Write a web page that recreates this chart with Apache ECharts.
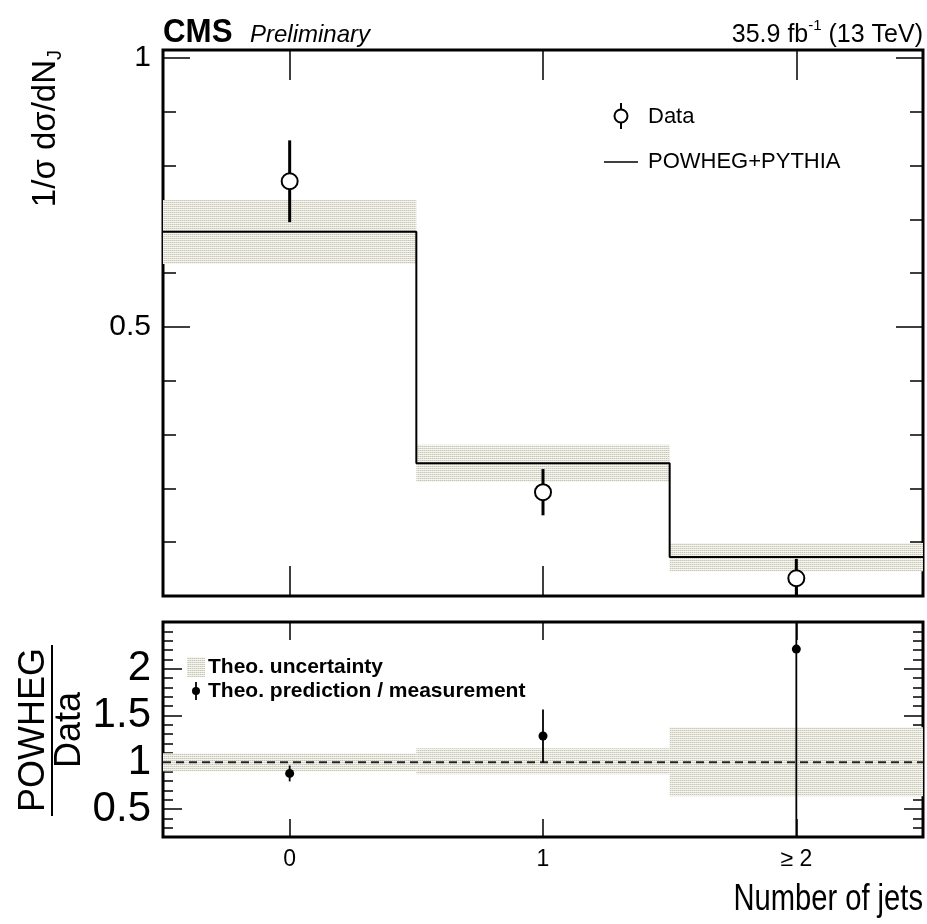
<!DOCTYPE html>
<html><head><meta charset="utf-8">
<script src="https://cdn.jsdelivr.net/npm/echarts@6/dist/echarts.min.js"></script>
<style>html,body{margin:0;padding:0;background:#fff}#c{width:927px;height:924px}</style>
</head><body><div id="c"></div>
<script>
// ---- data ----
const categories = ['0', '1', '\u2265 2'];
const binCenters = [0, 1, 2];
const binEdges = [-0.5, 0.5, 1.5, 2.5];
const dataValues = [0.771, 0.193, 0.033];
const dataErrors = [0.076, 0.043, 0.036];
const mcValues = [0.677, 0.247, 0.0725];
const mcBandLo = [0.617, 0.212, 0.046];
const mcBandHi = [0.736, 0.281, 0.0985];
const ratioValues = [0.88, 1.28, 2.21];
const ratioErrors = [0.085, 0.285, 2.3];
const ratioBandLo = [0.904, 0.87, 0.635];
const ratioBandHi = [1.096, 1.15, 1.375];
const upperMajorTicks = [0.5, 1];
const upperMinorTicks = [0.1, 0.2, 0.3, 0.4, 0.6, 0.7, 0.8, 0.9];
const lowerMajorTicks = [0.5, 1, 1.5, 2];
const lowerMinorTicks = [0.3, 0.4, 0.6, 0.7, 0.8, 0.9, 1.1, 1.2, 1.3, 1.4, 1.6, 1.7, 1.8, 1.9, 2.1, 2.2, 2.3, 2.4];
const upperRange = [0, 1.015];
const lowerRange = [0.2, 2.5];

const SANS = '"Liberation Sans", Arial, sans-serif';

function makePattern() {
  const c = document.createElement('canvas');
  c.width = 2; c.height = 2;
  const g = c.getContext('2d');
  g.fillStyle = '#f5f5f0'; g.fillRect(0, 0, 2, 2);
  g.fillStyle = '#c8c6b8'; g.fillRect(0, 0, 1, 1);
  g.fillStyle = '#e0ded3'; g.fillRect(1, 0, 1, 1);
  return c;
}
const pattern = { image: makePattern(), repeat: 'repeat' };

const chart = echarts.init(document.getElementById('c'), null, { renderer: 'canvas' });

const grids = [
  { left: 163, right: 4, top: 50, height: 546, show: true, borderColor: '#000', borderWidth: 3, backgroundColor: 'transparent' },
  { left: 163, right: 4, top: 622, height: 215, show: true, borderColor: '#000', borderWidth: 3, backgroundColor: 'transparent' }
];

function xAx(gi, pos, len, labels) {
  return {
    type: 'value', gridIndex: gi, min: binEdges[0], max: binEdges[binEdges.length - 1], position: pos,
    axisLine: { show: false, onZero: false }, splitLine: { show: false },
    axisTick: { show: true, inside: true, length: len, customValues: binCenters, lineStyle: { color: '#000', width: 1.5 } },
    axisLabel: labels ? {
      show: true, customValues: binCenters, margin: 11,
      formatter: v => categories[binCenters.indexOf(v)], fontFamily: SANS, fontSize: 23, color: '#000'
    } : { show: false }
  };
}
function yAx(gi, pos, range, ticks, len, labelSize) {
  return {
    type: 'value', gridIndex: gi, min: range[0], max: range[1], position: pos,
    axisLine: { show: false, onZero: false }, splitLine: { show: false },
    axisTick: { show: true, inside: true, length: len, customValues: ticks, lineStyle: { color: '#000', width: 1.5 } },
    axisLabel: labelSize ? {
      show: true, customValues: ticks, margin: 12, formatter: v => String(v),
      fontFamily: SANS, fontSize: labelSize, color: '#000'
    } : { show: false }
  };
}

const xAxes = [
  xAx(0, 'bottom', 30, false), xAx(0, 'top', 30, false),
  xAx(1, 'bottom', 18, true), xAx(1, 'top', 18, false)
];
const yAxes = [
  yAx(0, 'left', upperRange, upperMajorTicks, 27, 30),
  yAx(0, 'left', upperRange, upperMinorTicks, 13, 0),
  yAx(0, 'right', upperRange, upperMajorTicks, 27, 0),
  yAx(0, 'right', upperRange, upperMinorTicks, 13, 0),
  yAx(1, 'left', lowerRange, lowerMajorTicks, 19, 42),
  yAx(1, 'left', lowerRange, lowerMinorTicks, 10, 0),
  yAx(1, 'right', lowerRange, lowerMajorTicks, 19, 0),
  yAx(1, 'right', lowerRange, lowerMinorTicks, 10, 0)
];

function bandSeries(xi, yi, lo, hi) {
  return {
    type: 'custom', xAxisIndex: xi, yAxisIndex: yi, silent: true, z: 1,
    data: lo.map((l, i) => [binEdges[i], binEdges[i + 1], l, hi[i]]),
    encode: { x: [0, 1], y: [2, 3] },
    renderItem: (params, api) => {
      const p1 = api.coord([api.value(0), api.value(3)]);
      const p2 = api.coord([api.value(1), api.value(2)]);
      return { type: 'rect', shape: { x: p1[0], y: p1[1], width: p2[0] - p1[0], height: p2[1] - p1[1] }, style: { fill: pattern } };
    }
  };
}
function errSeries(xi, yi, vals, errs, range, r, lw, hollow) {
  return {
    type: 'custom', xAxisIndex: xi, yAxisIndex: yi, silent: true, z: 5,
    data: vals.map((v, i) => [binCenters[i], v, Math.max(v - errs[i], range[0]), Math.min(v + errs[i], range[1])]),
    encode: { x: 0, y: [1, 2, 3] },
    renderItem: (params, api) => {
      const c = api.coord([api.value(0), api.value(1)]);
      const lo = api.coord([api.value(0), api.value(2)]);
      const hi = api.coord([api.value(0), api.value(3)]);
      return {
        type: 'group', children: [
          { type: 'line', shape: { x1: c[0], y1: lo[1], x2: c[0], y2: hi[1] }, style: { stroke: '#000', lineWidth: lw } },
          { type: 'circle', shape: { cx: c[0], cy: c[1], r: r }, style: hollow ? { fill: '#fff', stroke: '#000', lineWidth: 2 } : { fill: '#000' } }
        ]
      };
    }
  };
}

const stepData = [];
mcValues.forEach((v, i) => { stepData.push([binEdges[i], v], [binEdges[i + 1], v]); });

const series = [
  bandSeries(0, 0, mcBandLo, mcBandHi),
  { type: 'line', xAxisIndex: 0, yAxisIndex: 0, data: stepData, symbol: 'none', silent: true, z: 3,
    lineStyle: { color: '#000', width: 2 } },
  errSeries(0, 0, dataValues, dataErrors, upperRange, 8, 3, true),
  bandSeries(2, 4, ratioBandLo, ratioBandHi),
  { type: 'line', xAxisIndex: 2, yAxisIndex: 4, data: [[binEdges[0], 1], [binEdges[3], 1]], symbol: 'none', silent: true, z: 3,
    lineStyle: { color: '#222', width: 2, type: [8, 5] } },
  errSeries(2, 4, ratioValues, ratioErrors, lowerRange, 4.5, 1.8, false)
];

const graphic = [
  { type: 'text', x: 163, y: 33, scaleX: 0.92, style: { text: 'CMS', font: 'bold 34px ' + SANS, fill: '#000', textAlign: 'left', textVerticalAlign: 'middle' } },
  { type: 'text', x: 250, y: 35, style: { text: 'Preliminary', font: 'italic 24px ' + SANS, fill: '#000', textAlign: 'left', textVerticalAlign: 'middle' } },
  { type: 'text', x: 923, y: 33, style: {
      text: '{a|35.9 fb}{s|-1}{a| (13 TeV)}', textAlign: 'right', textVerticalAlign: 'middle',
      rich: { a: { font: '25px ' + SANS, fill: '#000', lineHeight: 30, verticalAlign: 'bottom' },
              s: { font: '15px ' + SANS, fill: '#000', lineHeight: 16, verticalAlign: 'top' } } } },
  { type: 'text', x: 47, y: 50, rotation: Math.PI / 2, style: {
      text: '{a|1/\u03c3 d\u03c3/dN}{s|J}', textAlign: 'right', textVerticalAlign: 'middle',
      rich: { a: { font: '33px ' + SANS, fill: '#000', lineHeight: 36, verticalAlign: 'top' },
              s: { font: '20px ' + SANS, fill: '#000', lineHeight: 22, verticalAlign: 'bottom' } } } },
  // upper legend
  { type: 'line', shape: { x1: 621, y1: 103, x2: 621, y2: 129 }, style: { stroke: '#000', lineWidth: 2 } },
  { type: 'circle', shape: { cx: 621, cy: 116, r: 6.5 }, style: { fill: '#fff', stroke: '#000', lineWidth: 2 } },
  { type: 'text', x: 648, y: 117, style: { text: 'Data', font: '22px ' + SANS, fill: '#000', textAlign: 'left', textVerticalAlign: 'middle' } },
  { type: 'line', shape: { x1: 604, y1: 162, x2: 638, y2: 162 }, style: { stroke: '#000', lineWidth: 1.5 } },
  { type: 'text', x: 648, y: 162, style: { text: 'POWHEG+PYTHIA', font: '22px ' + SANS, fill: '#000', textAlign: 'left', textVerticalAlign: 'middle' } },
  // lower legend
  { type: 'rect', shape: { x: 187, y: 657, width: 18, height: 20 }, style: { fill: pattern } },
  { type: 'text', x: 208, y: 667, style: { text: 'Theo. uncertainty', font: 'bold 21px ' + SANS, fill: '#000', textAlign: 'left', textVerticalAlign: 'middle' } },
  { type: 'line', shape: { x1: 196, y1: 682, x2: 196, y2: 700 }, style: { stroke: '#000', lineWidth: 1.8 } },
  { type: 'circle', shape: { cx: 196, cy: 691, r: 4 }, style: { fill: '#000' } },
  { type: 'text', x: 208, y: 691, style: { text: 'Theo. prediction / measurement', font: 'bold 21px ' + SANS, fill: '#000', textAlign: 'left', textVerticalAlign: 'middle' } },
  // ratio y title
  { type: 'text', x: 34, y: 730, rotation: Math.PI / 2, style: { text: 'POWHEG', font: '36px ' + SANS, fill: '#000', textAlign: 'center', textVerticalAlign: 'middle' } },
  { type: 'line', shape: { x1: 52, y1: 645, x2: 52, y2: 816 }, style: { stroke: '#000', lineWidth: 2 } },
  { type: 'text', x: 70, y: 730, rotation: Math.PI / 2, style: { text: 'Data', font: '36px ' + SANS, fill: '#000', textAlign: 'center', textVerticalAlign: 'middle' } },
  // x title
  { type: 'text', x: 923, y: 900, scaleX: 0.81, style: { text: 'Number of jets', font: '36px ' + SANS, fill: '#000', textAlign: 'right', textVerticalAlign: 'middle' } }
];

chart.setOption({
  animation: false,
  backgroundColor: '#fff',
  grid: grids,
  xAxis: xAxes,
  yAxis: yAxes,
  series: series,
  graphic: graphic
});
</script></body></html>
